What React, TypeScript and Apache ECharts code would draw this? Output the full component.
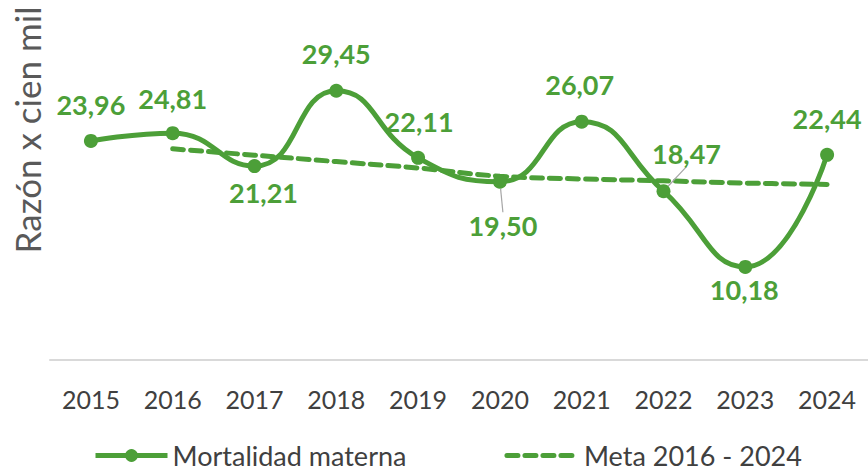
import React, { useEffect, useRef } from "react";
import * as echarts from "echarts";

const years = ["2015", "2016", "2017", "2018", "2019", "2020", "2021", "2022", "2023", "2024"];
const mortalidad = [23.96, 24.81, 21.21, 29.45, 22.11, 19.5, 26.07, 18.47, 10.18, 22.44];
const meta = [null, 23.1, 22.4, 21.7, 21.0, 20.1, 19.8, 19.6, 19.35, 19.2];

// label centre shift relative to each point (layout only)
const labelShift: [number, number][] = [
  [0, -36], [0, -35], [9, 26], [0, -37], [1, -36],
  [3, 44], [-2, -37], [23, -38], [-1, 23], [0, -36],
];
const leaderIdx = [5, 7];

const GREEN = "#4c9f38";
const FONT = "Lato";

export default function App() {
  const ref = useRef<HTMLDivElement>(null);
  useEffect(() => {
    const chart = echarts.init(ref.current!, null, { renderer: "svg" });
    chart.setOption({
      animation: false,
      backgroundColor: "#ffffff",
      grid: { left: 50, right: -4, top: 40, bottom: 112, containLabel: false },
      xAxis: {
        type: "category",
        data: years,
        boundaryGap: true,
        axisLine: { show: true, lineStyle: { color: "#d9d9d9", width: 2 } },
        axisTick: { show: false },
        axisLabel: { color: "#404040", fontSize: 25, fontFamily: FONT, margin: 26 },
      },
      yAxis: {
        type: "value",
        min: 0,
        max: 35,
        axisLine: { show: false },
        axisTick: { show: false },
        axisLabel: { show: false },
        splitLine: { show: false },
      },
      legend: {
        left: 88,
        top: 437,
        itemWidth: 72,
        itemHeight: 16,
        itemGap: 98,
        lineStyle: { width: 5 },
        textStyle: { color: "#404040", fontSize: 27, fontFamily: FONT },
        data: [
          { name: "Mortalidad materna" },
          { name: "Meta 2016 - 2024", itemStyle: { opacity: 0 } },
        ],
      },
      graphic: [
        {
          type: "text",
          x: 27,
          y: 130,
          rotation: Math.PI / 2,
          style: {
            text: "Razón x cien mil",
            fill: "#595959",
            fontSize: 35,
            fontFamily: FONT,
            align: "center",
            verticalAlign: "middle",
          },
        },
      ],
      series: [
        {
          name: "Meta 2016 - 2024",
          type: "line",
          data: meta,
          smooth: 0.4,
          symbol: "none",
          z: 2,
          lineStyle: { color: GREEN, width: 5, type: [11, 7], cap: "round" },
          itemStyle: { color: GREEN },
        },
        {
          name: "Mortalidad materna",
          type: "line",
          data: mortalidad.map((v, i) => ({
            value: v,
            labelLine: leaderIdx.includes(i)
              ? { show: true, lineStyle: { color: "#a6a6a6", width: 1.2 } }
              : { show: false },
          })),
          smooth: 0.5,
          symbol: "circle",
          symbolSize: 14,
          z: 3,
          lineStyle: { color: GREEN, width: 5 },
          itemStyle: { color: GREEN },
          label: {
            show: true,
            position: "inside",
            color: GREEN,
            fontSize: 27,
            fontWeight: "bold",
            fontFamily: FONT,
            formatter: (p: any) => Number(p.value).toFixed(2).replace(".", ","),
          },
          labelLayout: (p: any) => {
            const s = labelShift[p.dataIndex] || [0, 0];
            return { dx: s[0], dy: s[1] };
          },
        },
      ],
    });
    return () => chart.dispose();
  }, []);
  return (
    <div
      ref={ref}
      style={{ position: "fixed", left: 0, top: 0, width: 868, height: 472 }}
    />
  );
}
